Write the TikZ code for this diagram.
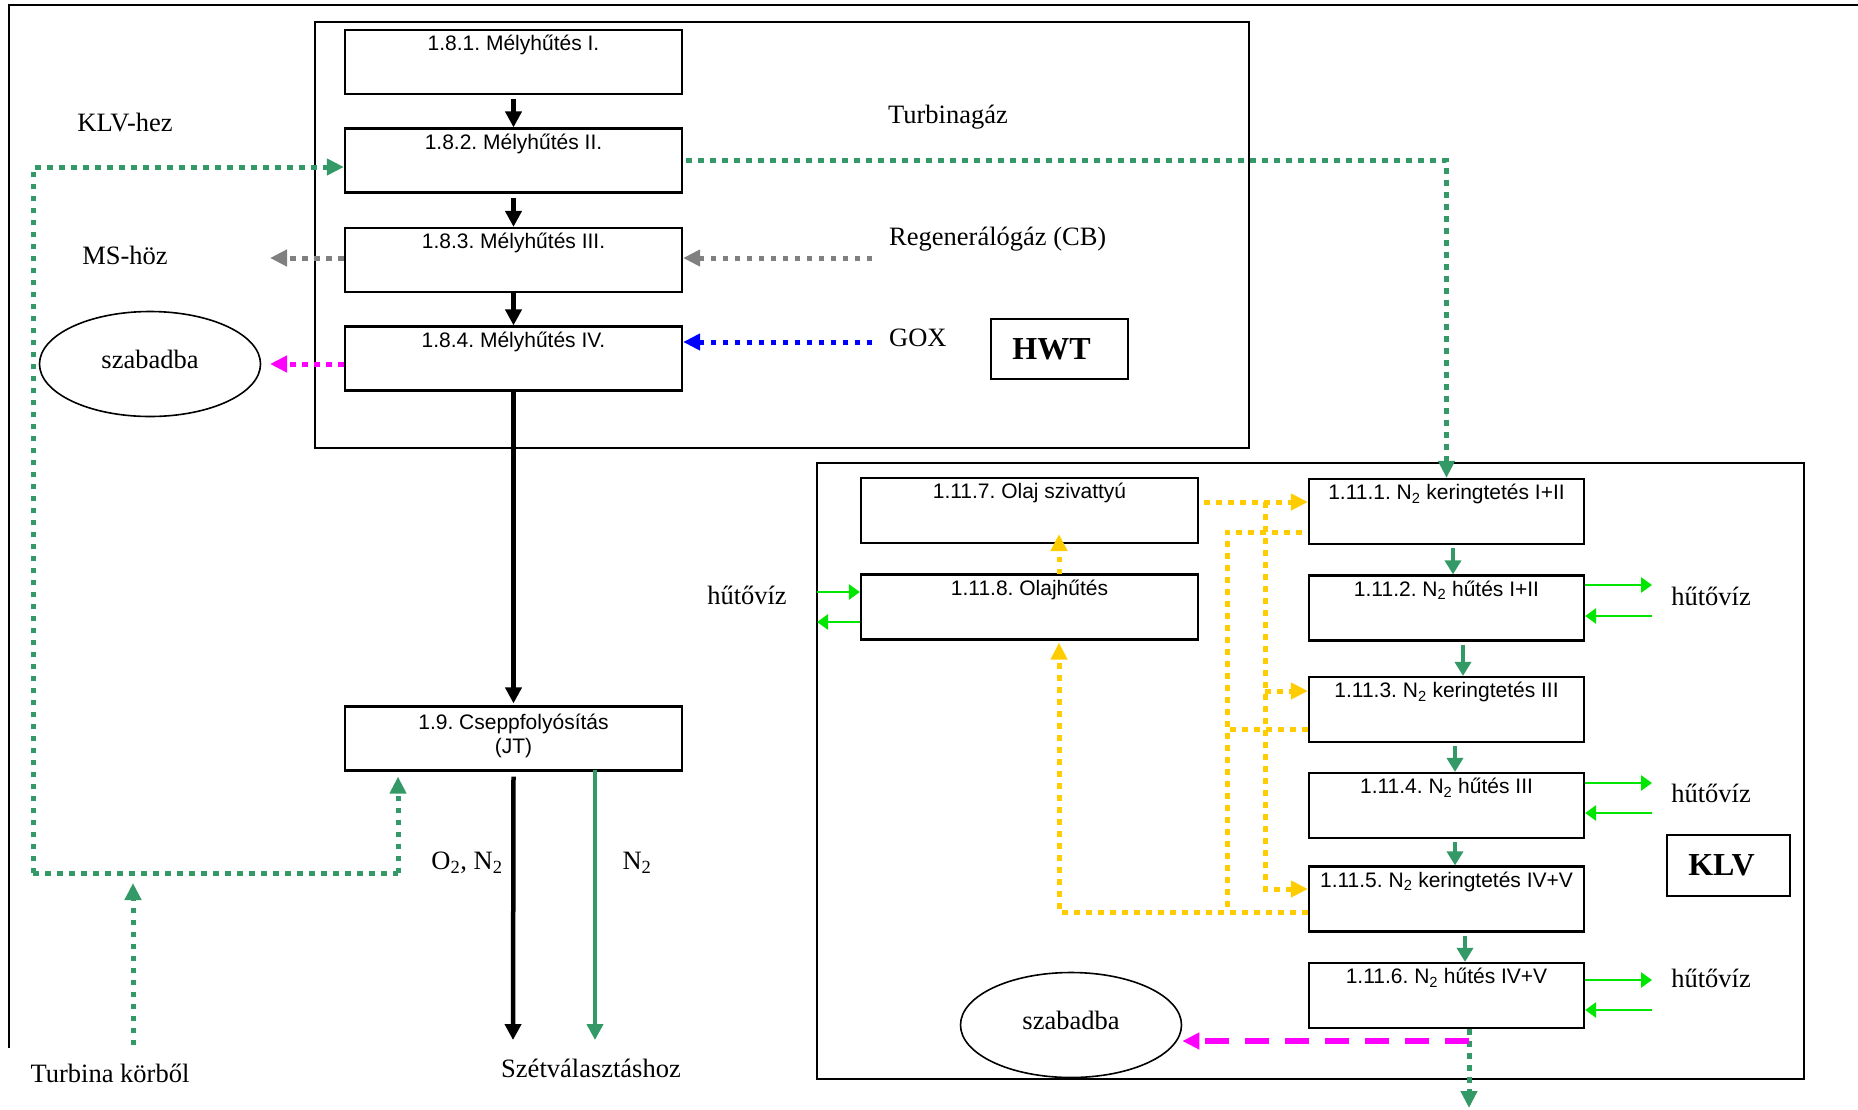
\documentclass[tikz,border=0pt]{standalone}
\usepackage{fontspec}
\setmainfont{Liberation Serif}
\newfontfamily\sansarial{Liberation Sans}
\usetikzlibrary{arrows.meta,shapes.geometric}
\definecolor{seagr}{RGB}{51,153,102}
\definecolor{ltgr}{RGB}{0,230,0}
\definecolor{gold}{RGB}{255,204,0}
\definecolor{gry}{RGB}{128,128,128}
\definecolor{mag}{RGB}{255,0,255}
\definecolor{blu}{RGB}{0,0,255}
\tikzset{
  boxa/.style={draw, line width=2.2pt, minimum width=337pt, minimum height=64pt, inner sep=0pt},
  boxb/.style={boxa, minimum width=275pt, minimum height=65pt},
  btxt/.style={anchor=base, inner sep=0pt, font=\sansarial\fontsize{21}{24}\selectfont, align=center},
  lbl/.style={inner sep=0pt, font=\fontsize{26.5}{30}\selectfont},
  bigbox/.style={draw, line width=1.8pt, inner sep=0pt, font=\bfseries\fontsize{32}{36}\selectfont},
  frame/.style={line width=2pt},
  dotline/.style={line width=5pt, dash pattern=on 5.5pt off 6.5pt},
  bigtip/.style={-{Triangle[length=17pt,width=16pt]}},
  blkarr/.style={line width=4.5pt, -{Triangle[length=16pt,width=16pt]}},
  sgarr/.style={seagr, line width=4.5pt, -{Triangle[length=14pt,width=16pt]}},
  lgarr/.style={ltgr, line width=2.8pt, -{Triangle[length=11pt,width=15pt]}},
  ell/.style={draw, ellipse, line width=1.6pt, minimum width=221pt, minimum height=105pt, inner sep=0pt, text depth=10pt, font=\fontsize{26.5}{30}\selectfont}
}
\begin{document}
\frenchspacing
\begin{tikzpicture}[x=1pt,y=-1pt]
\useasboundingbox (0,0) rectangle (1858,1109);
% outer partial frame
\draw[frame] (9,1048) -- (9,5) -- (1858,5);
% HWT and KLV frames
\draw[frame] (315,22) rectangle (1249,448);
\draw[frame] (817,463) rectangle (1804,1079);

% HWT boxes
\node[boxa] (b181) at (513.5,62) {};
\node[boxa] (b182) at (513.5,160.5) {};
\node[boxa] (b183) at (513.5,260) {};
\node[boxa] (b184) at (513.5,358.5) {};
\node[boxa] (b19) at (513.5,738.5) {};
\node[btxt] (t181) at ([yshift=-22pt]b181.north) {1.8.1. Mélyhűtés I.};
\node[btxt] (t182) at ([yshift=-22pt]b182.north) {1.8.2. Mélyhűtés II.};
\node[btxt] (t183) at ([yshift=-22pt]b183.north) {1.8.3. Mélyhűtés III.};
\node[btxt] (t184) at ([yshift=-22pt]b184.north) {1.8.4. Mélyhűtés IV.};
\node[btxt] (t19) at ([yshift=-48pt]b19.north) {1.9. Cseppfolyósítás\\(JT)};

% KLV boxes
\node[boxa, minimum height=65pt] (b1117) at (1029.5,510.5) {};
\node[boxa, minimum height=65pt] (b1118) at (1029.5,607) {};
\node[boxb] (b1111) at (1446.5,511.5) {};
\node[boxb] (b1112) at (1446.5,608) {};
\node[boxb] (b1113) at (1446.5,709.5) {};
\node[boxb] (b1114) at (1446.5,805.5) {};
\node[boxb] (b1115) at (1446.5,899) {};
\node[boxb] (b1116) at (1446.5,995.5) {};
\node[btxt] (t1117) at ([yshift=-22pt]b1117.north) {1.11.7. Olaj szivattyú};
\node[btxt] (t1118) at ([yshift=-22pt]b1118.north) {1.11.8. Olajhűtés};
\node[btxt] (t1111) at ([yshift=-22pt]b1111.north) {1.11.1. N\textsubscript{2} keringtetés I+II};
\node[btxt] (t1112) at ([yshift=-22pt]b1112.north) {1.11.2. N\textsubscript{2} hűtés I+II};
\node[btxt] (t1113) at ([yshift=-22pt]b1113.north) {1.11.3. N\textsubscript{2} keringtetés III};
\node[btxt] (t1114) at ([yshift=-22pt]b1114.north) {1.11.4. N\textsubscript{2} hűtés III};
\node[btxt] (t1115) at ([yshift=-22pt]b1115.north) {1.11.5. N\textsubscript{2} keringtetés IV+V};
\node[btxt] (t1116) at ([yshift=-22pt]b1116.north) {1.11.6. N\textsubscript{2} hűtés IV+V};

% labels
\node[lbl] (klvhez) at (125,123) {KLV-hez};
\node[lbl] (mshoz) at (125,255) {MS-höz};
\node[ell] (sz1) at (150,364) {szabadba};
\node[ell] (sz2) at (1071,1025) {szabadba};
\node[lbl] (turbgaz) at (948,117) {Turbinagáz};
\node[lbl, anchor=west] (regen) at (889,239) {Regenerálógáz (CB)};
\node[lbl, anchor=west] (gox) at (889,338) {GOX};
\node[bigbox, minimum width=137pt, minimum height=60pt] (hwt) at (1059.5,349) {\hspace*{-16pt}HWT};
\node[bigbox, minimum width=123pt, minimum height=61pt] (klv) at (1728.5,865.5) {\hspace*{-14pt}KLV};
\node[lbl] (hv0) at (747,595) {hűtővíz};
\node[lbl] (hv1) at (1711,596) {hűtővíz};
\node[lbl] (hv2) at (1711,793) {hűtővíz};
\node[lbl] (hv3) at (1711,978) {hűtővíz};
\node[lbl] (o2n2) at (467,863) {O\textsubscript{2}, N\textsubscript{2}};
\node[lbl] (n2) at (637,863) {N\textsubscript{2}};
\node[lbl] (szet) at (591,1068) {Szétválasztáshoz};
\node[lbl] (turbk) at (110,1073) {Turbina körből};

% black arrows
\draw[blkarr] ([yshift=-4pt]b181.south) -- (b182.north);
\draw[blkarr] ([yshift=-4pt]b182.south) -- (b183.north);
\draw[blkarr] (b183.south) -- (b184.north);
\draw[blkarr] (b184.south) -- ([yshift=2pt]b19.north);
\coordinate (szetL) at (513,1040);
\coordinate (szetR) at (595,1040);
\draw[blkarr] ([yshift=-5pt]b19.south) -- (szetL);
\draw[seagr, line width=4pt, -{Triangle[length=16pt,width=16pt]}] ([xshift=81.5pt,yshift=2pt]b19.south) -- (szetR);

% green dotted (Turbinagaz)
\draw[seagr, dotline, bigtip] ([xshift=3pt]b182.east) -| (b1111.north);
\coordinate (gl) at (33,873);
\coordinate (gr) at (398,873);
\coordinate (tk) at (133,1045);
\coordinate (tkend) at (133,883);
\draw[seagr, dotline] (gl) -- (gr);
\draw[seagr, dotline, bigtip] (gr) -- ([yshift=-5pt]b19.south -| gr);
\draw[seagr, dotline, bigtip] (gl) |- (b182.west |- 0,167);
\draw[seagr, dotline, bigtip] (tk) -- (tkend);

% gray, blue, magenta dotted
\coordinate (msend) at (270,258);
\coordinate (szend) at (270,364);
\coordinate (rgst) at (872,258);
\coordinate (goxst) at (872,342);
\draw[gry, dotline, bigtip] (rgst) -- (b183.east |- 0,258);
\draw[gry, dotline, bigtip] (b183.west |- 0,258) -- (msend);
\draw[blu, dotline, bigtip] (goxst) -- (b184.east |- 0,342);
\draw[mag, dotline, bigtip] (b184.west |- 0,364) -- (szend);

% sea green arrows in KLV
\draw[sgarr] ([xshift=6.5pt,yshift=-3pt]b1111.south) -- ([xshift=6.5pt]b1112.north);
\draw[sgarr] ([xshift=16.5pt,yshift=-3pt]b1112.south) -- ([xshift=16.5pt]b1113.north);
\draw[sgarr] ([xshift=8.5pt,yshift=-3pt]b1113.south) -- ([xshift=8.5pt]b1114.north);
\draw[sgarr] ([xshift=8.5pt,yshift=-3pt]b1114.south) -- ([xshift=8.5pt]b1115.north);
\draw[sgarr] ([xshift=18.5pt,yshift=-3pt]b1115.south) -- ([xshift=18.5pt]b1116.north);

% cooling water arrows
\coordinate (w1o) at (1652,585);
\coordinate (w1i) at (1652,616);
\coordinate (w2o) at (1652,783);
\coordinate (w2i) at (1652,813);
\coordinate (w3o) at (1652,980);
\coordinate (w3i) at (1652,1010);
\coordinate (w0i) at (817,592);
\coordinate (w0o) at (817,622);
\draw[lgarr] (b1112.east |- w1o) -- (w1o);
\draw[lgarr] (w1i) -- (b1112.east |- w1i);
\draw[lgarr] (b1114.east |- w2o) -- (w2o);
\draw[lgarr] (w2i) -- (b1114.east |- w2i);
\draw[lgarr] (b1116.east |- w3o) -- (w3o);
\draw[lgarr] (w3i) -- (b1116.east |- w3i);
\draw[lgarr] (w0i) -- (b1118.west |- w0i);
\draw[lgarr] (b1118.west |- w0o) -- (w0o);

% oil circuit (yellow)
\coordinate (ys) at (1204,502);
\coordinate (yv) at (1265,502);
\coordinate (yv3) at (1265,691);
\coordinate (yv5) at (1265,889);
\coordinate (yr1) at (1227,532);
\coordinate (yr3) at (1227,729);
\coordinate (yr5) at (1227,912);
\coordinate (yb) at (1059,912);
\coordinate (y8t) at (1059,574);
\coordinate (y7b) at (1059,534);
\draw[gold, dotline, bigtip] (ys) -- (b1111.west |- ys);
\draw[gold, dotline, bigtip] (yv) -- (yv5) -- (b1115.west |- yv5);
\draw[gold, dotline, bigtip] (yv3) -- (b1113.west |- yv3);
\draw[gold, dotline] ([xshift=-6pt]b1111.west |- yr1) -- (yr1) -- (yr5);
\draw[gold, dotline] (b1113.west |- yr3) -- (yr3);
\draw[gold, dotline, bigtip] (b1115.west |- yr5) -- (yb) -- ([yshift=-2pt]b1118.south -| yb);
\draw[gold, dotline, bigtip] (y8t) -- (y7b);

% KLV outlets
\coordinate (gb1) at (1469,1041);
\coordinate (gb2) at (1469,1108);
\draw[seagr, dotline, bigtip] (b1116.south -| gb1) -- (gb2);
\draw[mag, line width=6pt, dash pattern=on 24pt off 16pt, bigtip] (gb1) -- (sz2.east |- gb1);
\end{tikzpicture}
\end{document}
